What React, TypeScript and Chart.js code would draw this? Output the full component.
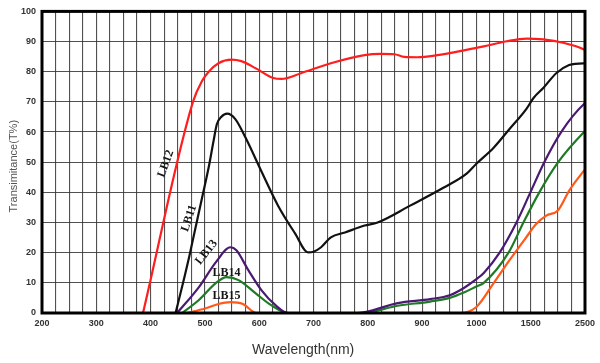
import React, { useEffect, useRef } from "react";
import { Chart, registerables } from "chart.js";

Chart.register(...registerables);

// Axis ticks (wavelength axis is piecewise: 100 nm steps to 1000, then 1500, 2500)
const X_TICK_NM = [200, 300, 400, 500, 600, 700, 800, 900, 1000, 1500, 2500];
const X_TICK_LABELS = ["200", "300", "400", "500", "600", "700", "800", "900", "1000", "1500", "2500"];
const Y_MIN = 0;
const Y_MAX = 100;
const Y_STEP = 10;

// LB12 (red)
const LB12_NM = [386, 478, 495, 507, 525, 549, 567, 593, 626, 641, 677, 732, 794, 823, 849, 867, 891, 928, 977, 1068, 1278, 1461, 1732, 2098, 2482, 2500];
const LB12_T = [0, 70, 77, 80, 82.8, 84, 83.5, 81.2, 77.9, 77.6, 79.5, 82.8, 85.5, 85.9, 85.8, 84.9, 84.8, 85.5, 87.1, 88.4, 90.1, 91, 90.7, 89.6, 87.4, 87.2];

// LB11 (black)
const LB11_NM = [446, 458, 471, 483, 495, 507, 516, 522, 530, 541, 556, 575, 604, 635, 666, 690, 700, 714, 732, 758, 794, 818, 878, 940, 982, 1000, 1159, 1305, 1461, 1552, 1732, 1970, 2208, 2465, 2500];
const LB11_T = [0, 8.7, 18.6, 28.5, 38.4, 48.3, 57.1, 62.6, 65, 66.1, 64.3, 58.1, 47, 35.5, 26.4, 20.1, 20.3, 21.8, 25.1, 26.7, 29, 30, 35.6, 41.6, 46.2, 49.5, 54.8, 61, 67.7, 71.3, 74.6, 79.5, 82.2, 82.8, 82.8];

// LB13 (purple)
const LB13_NM = [449, 489, 520, 547, 558, 580, 604, 630, 653, 700, 781, 855, 915, 951, 977, 1000, 1068, 1214, 1369, 1497, 1750, 2061, 2482, 2500];
const LB13_T = [0, 8.6, 16.8, 21.8, 20.8, 14.2, 7.6, 2.6, 0, 0, 0, 3.3, 4.6, 5.9, 8.3, 11.2, 13.3, 20, 30, 40, 50, 60, 69.3, 69.5];

// LB14 (green)
const LB14_NM = [458, 489, 520, 540, 562, 593, 622, 653, 700, 790, 855, 915, 951, 977, 1000, 1068, 1296, 1433, 1659, 2006, 2482, 2500];
const LB14_T = [0, 4.3, 9.9, 11.9, 10.9, 6.6, 2.6, 0, 0, 0, 2.4, 3.8, 5, 6.8, 8.8, 10, 20, 30, 40, 50, 60, 60.3];

// LB15 (orange)
const LB15_NM = [467, 500, 525, 547, 570, 595, 650, 900, 970, 1000, 1159, 1305, 1461, 1600, 1787, 2000, 2210, 2482, 2500];
const LB15_T = [0, 1.5, 3, 3.6, 3, 0, 0, 0, 0, 2, 9.9, 17.5, 25.2, 29.5, 32.3, 34, 40.6, 47.2, 47.6];

// Curve labels
const LABEL_TEXT = ["LB12", "LB11", "LB13", "LB14", "LB15"];
const LABEL_NM = [428, 471, 503, 540, 540];
const LABEL_T = [49.5, 31.4, 20.1, 13.2, 5.6];
const LABEL_ANGLE = [-70, -72, -52, 0, 0];

const X_TITLE = "Wavelength(nm)";
const Y_TITLE = "Transimitance(T%)";

function pos(nm: number): number {
  for (let i = 0; i < X_TICK_NM.length - 1; i++) {
    const a = X_TICK_NM[i];
    const b = X_TICK_NM[i + 1];
    if (nm <= b || i === X_TICK_NM.length - 2) {
      return i + (nm - a) / (b - a);
    }
  }
  return 0;
}

function series(nm: number[], t: number[]) {
  return nm.map((w, i) => ({ x: pos(w), y: t[i] }));
}

export default function App() {
  const ref = useRef<HTMLCanvasElement | null>(null);

  useEffect(() => {
    if (!ref.current) return;

    const overlay = {
      id: "overlay",
      afterDatasetsDraw(chart: any) {
        const { ctx, chartArea: a, scales } = chart;
        ctx.save();
        // frame
        ctx.strokeStyle = "#000";
        ctx.lineWidth = 3;
        ctx.strokeRect(a.left, a.top, a.right - a.left, a.bottom - a.top);
        // curve labels
        ctx.fillStyle = "#151515";
        ctx.font = "bold 12px 'Liberation Serif', serif";
        ctx.textAlign = "center";
        ctx.textBaseline = "middle";
        for (let i = 0; i < LABEL_TEXT.length; i++) {
          const px = scales.x.getPixelForValue(pos(LABEL_NM[i]));
          const py = scales.y.getPixelForValue(LABEL_T[i]);
          ctx.save();
          ctx.translate(px, py);
          ctx.rotate((LABEL_ANGLE[i] * Math.PI) / 180);
          ctx.fillText(LABEL_TEXT[i], 0, 0);
          ctx.restore();
        }
        // axis titles
        ctx.fillStyle = "#333";
        ctx.font = "14px 'Liberation Sans', Arial, sans-serif";
        ctx.fillText(X_TITLE, a.left + (a.right - a.left) * 0.481, a.bottom + 37);
        ctx.save();
        ctx.translate(14, (a.top + a.bottom) / 2 + 4);
        ctx.rotate(-Math.PI / 2);
        ctx.fillStyle = "#555";
        ctx.font = "11px 'Liberation Sans', Arial, sans-serif";
        ctx.fillText(Y_TITLE, 0, 0);
        ctx.restore();
        ctx.restore();
      },
    };

    const mk = (label: string, nm: number[], t: number[], color: string) => ({
      label,
      data: series(nm, t),
      borderColor: color,
      backgroundColor: color,
      borderWidth: 2.2,
      pointRadius: 0,
      fill: false,
      cubicInterpolationMode: "monotone" as const,
    });

    const chart = new Chart(ref.current, {
      type: "line",
      data: {
        datasets: [
          mk("LB12", LB12_NM, LB12_T, "#ff1e1e"),
          mk("LB11", LB11_NM, LB11_T, "#111111"),
          mk("LB13", LB13_NM, LB13_T, "#4a1a72"),
          mk("LB14", LB14_NM, LB14_T, "#1e7a24"),
          mk("LB15", LB15_NM, LB15_T, "#ff5a1a"),
        ],
      },
      options: {
        animation: false,
        responsive: false,
        devicePixelRatio: 1,
        parsing: false as any,
        layout: { padding: { left: 0, right: 11, top: 10, bottom: 0 } },
        plugins: { legend: { display: false }, tooltip: { enabled: false } },
        scales: {
          x: {
            type: "linear",
            min: 0,
            max: X_TICK_NM.length - 1,
            afterFit(scale: any) {
              scale.height = 50;
            },
            border: { display: false },
            grid: { color: "rgba(50,50,50,0.85)", lineWidth: 1.1, drawTicks: false },
            ticks: {
              stepSize: 0.25,
              autoSkip: false,
              maxRotation: 0,
              minRotation: 0,
              padding: 5,
              color: "#333",
              font: { family: "'Liberation Sans', Arial, sans-serif", size: 9, weight: "bold" },
              callback: (v: any) => {
                const n = Number(v);
                const r = Math.round(n);
                if (Math.abs(n - r) < 1e-6) return X_TICK_LABELS[r] ?? "";
                return "";
              },
            },
          },
          y: {
            min: Y_MIN,
            max: Y_MAX,
            afterFit(scale: any) {
              scale.width = 42;
            },
            border: { display: false },
            grid: { color: "rgba(50,50,50,0.85)", lineWidth: 1.1, drawTicks: false },
            ticks: {
              stepSize: Y_STEP,
              padding: 6,
              color: "#333",
              font: { family: "'Liberation Sans', Arial, sans-serif", size: 9, weight: "bold" },
            },
          },
        },
      },
      plugins: [overlay],
    } as any);

    return () => chart.destroy();
  }, []);

  return (
    <div style={{ position: "absolute", left: 0, top: 0, width: 600, height: 363, background: "#fff" }}>
      <canvas ref={ref} width={600} height={363} />
    </div>
  );
}
